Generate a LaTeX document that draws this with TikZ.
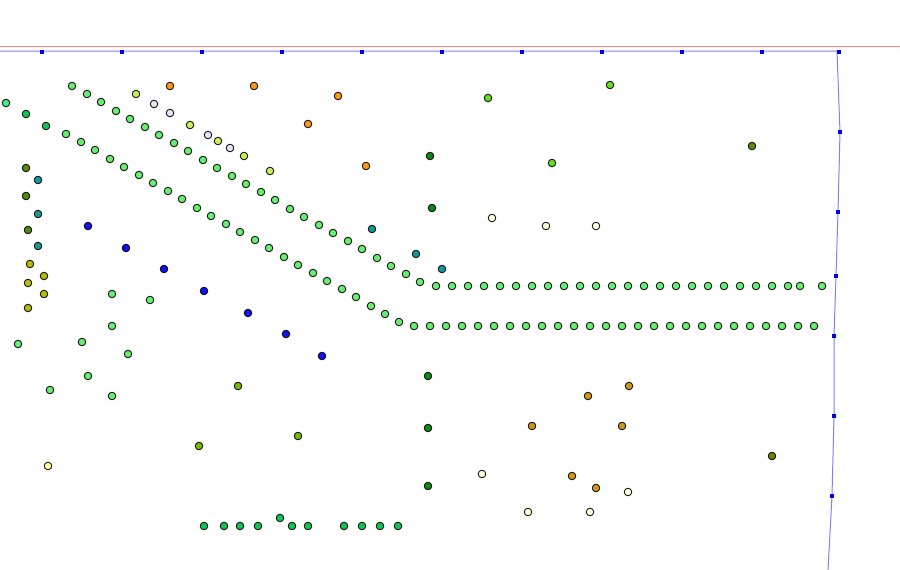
\documentclass[tikz,border=0pt]{standalone}
\usetikzlibrary{backgrounds}

\definecolor{mint}{HTML}{66EE70}
\definecolor{seafoam}{HTML}{44EE88}
\definecolor{jade}{HTML}{11C455}
\definecolor{forest}{HTML}{118811}
\definecolor{lime}{HTML}{66DD22}
\definecolor{moss}{HTML}{558811}
\definecolor{olivedk}{HTML}{668800}
\definecolor{tealdot}{HTML}{119999}
\definecolor{mustard}{HTML}{BBBB00}
\definecolor{pear}{HTML}{CCEE55}
\definecolor{lilac}{HTML}{E4E4F8}
\definecolor{amber}{HTML}{FF9911}
\definecolor{gold}{HTML}{CC9911}
\definecolor{cream}{HTML}{FFFFDD}
\definecolor{butter}{HTML}{FFFF99}
\definecolor{royal}{HTML}{1111EE}
\definecolor{sprout}{HTML}{77BB00}
\definecolor{guidered}{HTML}{FF8080}
\definecolor{guideblue}{HTML}{8080F0}
\definecolor{knotblue}{HTML}{0000EE}

\tikzset{
  pt/.style={circle, draw=black, line width=0.8pt, inner sep=0pt, minimum size=7.6pt, fill=#1},
  knot/.style={rectangle, fill=knotblue, inner sep=0pt, minimum size=4.6pt},
}

\begin{document}
\begin{tikzpicture}[x=1pt, y=-1pt]
  \useasboundingbox (0,0) rectangle (900,570);

  % guide lines
  \coordinate (rl) at (0,46);
  \coordinate (rr) at (900,46);
  \draw[guidered, line width=0.8pt] (rl) -- (rr);

  \coordinate (top0) at (0,51);
  \foreach \x [count=\i] in {42,122,...,762} { \node[knot] (t\i) at (\x,52) {}; }
  \node[knot] (corner) at (839,52) {};
  \node[knot] (r1) at (840,132) {};
  \node[knot] (r2) at (838,212) {};
  \node[knot] (r3) at (836,276) {};
  \node[knot] (r4) at (834,336) {};
  \node[knot] (r5) at (834,416) {};
  \node[knot] (r6) at (832,496) {};
  \coordinate (foot) at (828,570);
  \begin{scope}[on background layer]
    \draw[guideblue, line width=1pt] (top0) -- (837,51) -- (r1.center) -- (r2.center)
      -- (r3.center) -- (r4.center) -- (r5.center) -- (r6.center) -- (foot);
  \end{scope}

  % lower chain
  \node[pt=seafoam] (lo-a) at (6,103) {};
  \node[pt=jade] (lo-b) at (26,114) {};
  \node[pt=jade] (lo-c) at (46,126) {};
  \foreach \x/\y [count=\i] in {66/134, 81/142, 95/150, 110/159, 124/167, 139/175, 153/183,
      168/191, 182/199, 197/208, 211/216, 226/224, 240/232, 255/240, 269/248, 284/257,
      298/265, 313/273, 327/281, 342/289, 356/297, 371/306, 385/314, 399/322, 414/326}
    { \node[pt=mint] (lo\i) at (\x,\y) {}; }
  \foreach \x [count=\i] in {430,446,...,814} { \node[pt=mint] (lh\i) at (\x,326) {}; }

  % middle chain
  \foreach \x/\y [count=\i] in {72/86, 87/94, 101/102, 116/111, 130/119, 145/127, 159/135,
      174/143, 188/151, 203/160, 217/168, 232/176, 246/184, 261/192, 275/200, 290/209,
      304/217, 319/225, 333/233, 348/241, 362/249, 377/258, 391/266, 406/274, 420/282}
    { \node[pt=mint] (mi\i) at (\x,\y) {}; }
  \foreach \x [count=\i] in {436,452,...,788,800,822} { \node[pt=mint] (mh\i) at (\x,286) {}; }

  % upper chain
  \foreach \x/\y [count=\i] in {136/94, 190/125, 218/141, 244/156, 270/171}
    { \node[pt=pear] (up\i) at (\x,\y) {}; }
  \foreach \x/\y [count=\i] in {154/104, 170/113, 208/135, 230/148}
    { \node[pt=lilac] (li\i) at (\x,\y) {}; }

  % left column
  \foreach \x/\y [count=\i] in {26/168, 26/196, 28/230} { \node[pt=moss] (ms\i) at (\x,\y) {}; }
  \foreach \x/\y [count=\i] in {38/180, 38/214, 38/246, 372/229, 416/254, 442/269}
    { \node[pt=tealdot] (tl\i) at (\x,\y) {}; }
  \foreach \x/\y [count=\i] in {30/264, 44/276, 28/283, 44/294, 28/308}
    { \node[pt=mustard] (mu\i) at (\x,\y) {}; }

  % blue row
  \foreach \x/\y [count=\i] in {88/226, 126/248, 164/269, 204/291, 248/313, 286/334, 322/356}
    { \node[pt=royal] (bl\i) at (\x,\y) {}; }

  % loose mint dots
  \foreach \x/\y [count=\i] in {112/294, 150/300, 112/326, 18/344, 82/342, 128/354, 88/376,
      50/390, 112/396}
    { \node[pt=mint] (lm\i) at (\x,\y) {}; }

  % scattered
  \foreach \x/\y [count=\i] in {170/86, 254/86, 338/96, 308/124, 366/166}
    { \node[pt=amber] (am\i) at (\x,\y) {}; }
  \foreach \x/\y [count=\i] in {488/98, 610/85, 552/163} { \node[pt=lime] (lm-\i) at (\x,\y) {}; }
  \foreach \x/\y [count=\i] in {430/156, 432/208, 428/376, 428/428, 428/486}
    { \node[pt=forest] (fo\i) at (\x,\y) {}; }
  \foreach \x/\y [count=\i] in {752/146, 772/456} { \node[pt=olivedk] (ol\i) at (\x,\y) {}; }
  \foreach \x/\y [count=\i] in {492/218, 546/226, 596/226, 482/474, 528/512, 590/512, 628/492}
    { \node[pt=cream] (cr\i) at (\x,\y) {}; }
  \foreach \x/\y [count=\i] in {629/386, 588/396, 532/426, 622/426, 572/476, 596/488}
    { \node[pt=gold] (go\i) at (\x,\y) {}; }
  \foreach \x/\y [count=\i] in {238/386, 199/446, 298/436} { \node[pt=sprout] (sp\i) at (\x,\y) {}; }
  \node[pt=butter] (bu) at (48,466) {};

  % bottom row
  \foreach \x/\y [count=\i] in {204/526, 224/526, 240/526, 258/526, 280/518, 292/526,
      308/526, 344/526, 362/526, 380/526, 398/526}
    { \node[pt=jade] (bt\i) at (\x,\y) {}; }
\end{tikzpicture}
\end{document}
